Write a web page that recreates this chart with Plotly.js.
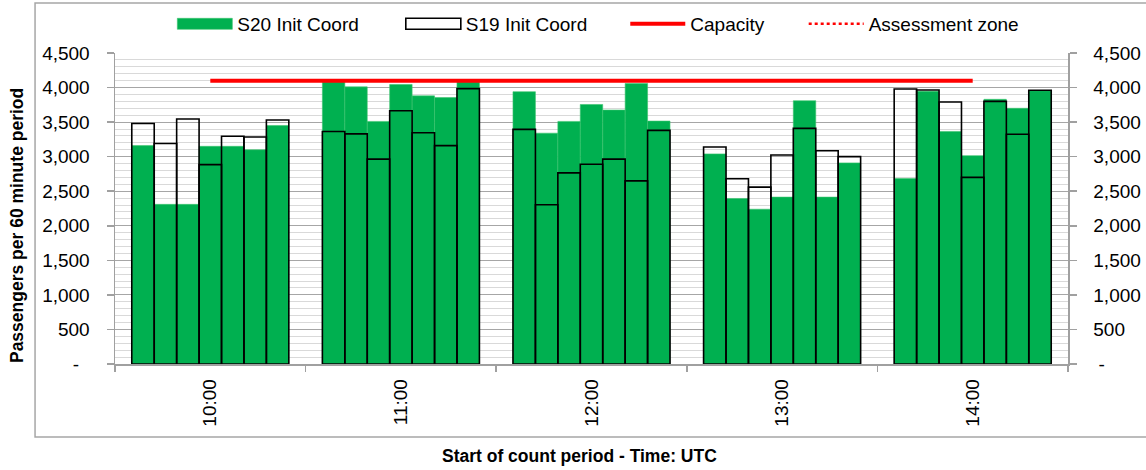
<!DOCTYPE html>
<html>
<head>
<meta charset="utf-8">
<script src="https://cdn.plot.ly/plotly-3.0.1.min.js"></script>
<style>html,body{margin:0;padding:0;background:#fff;}#chart{width:1146px;height:470px;}</style>
</head>
<body>
<div id="chart"></div>
<script>
// Hour groups (category labels)
var hours = ["10:00", "11:00", "12:00", "13:00", "14:00"];

// S20 Init Coord values, 7 periods per hour group
var s20_1000 = [3160, 2310, 2310, 3150, 3150, 3100, 3450];
var s20_1100 = [4080, 4010, 3510, 4045, 3880, 3855, 4080];
var s20_1200 = [3940, 3340, 3510, 3755, 3675, 4060, 3515];
var s20_1300 = [3040, 2395, 2240, 2415, 3810, 2415, 2910];
var s20_1400 = [2685, 3945, 3365, 3015, 3830, 3700, 3955];

// S19 Init Coord values
var s19_1000 = [3480, 3190, 3545, 2885, 3295, 3285, 3530];
var s19_1100 = [3365, 3330, 2965, 3665, 3345, 3160, 3985];
var s19_1200 = [3395, 2305, 2765, 2890, 2965, 2650, 3380];
var s19_1300 = [3140, 2680, 2560, 3025, 3410, 3085, 3000];
var s19_1400 = [3980, 3965, 3790, 2700, 3800, 3325, 3960];

// Capacity per hour group
var capacity = [4100, 4100, 4100, 4100, 4100];
// Assessment zone (no values plotted)
var assessment = [null, null, null, null, null];

// Y tick labels
var yTickVals = [0, 500, 1000, 1500, 2000, 2500, 3000, 3500, 4000, 4500];
var yTickLeft = ["-\u00a0\u00a0", "500", "1,000", "1,500", "2,000", "2,500", "3,000", "3,500", "4,000", "4,500"];
var yTickRight = ["\u00a0-", "500", "1,000", "1,500", "2,000", "2,500", "3,000", "3,500", "4,000", "4,500"];

var s20 = [s20_1000, s20_1100, s20_1200, s20_1300, s20_1400];
var s19 = [s19_1000, s19_1100, s19_1200, s19_1300, s19_1400];

var nPer = 7;
var barW = 0.1177;
function flattenX(groups) {
  var xs = [];
  groups.forEach(function (g, gi) {
    g.forEach(function (v, j) { xs.push(gi + (j - (nPer - 1) / 2) * barW); });
  });
  return xs;
}
function flattenY(groups) {
  var ys = [];
  groups.forEach(function (g) { g.forEach(function (v) { ys.push(v); }); });
  return ys;
}
var hourIdx = hours.map(function (h, i) { return i; });

var FONT = "'Liberation Sans', Arial, sans-serif";

var traces = [
  {
    type: "bar", name: "S20 Init Coord",
    x: flattenX(s20), y: flattenY(s20), width: barW,
    marker: { color: "#00B050", line: { color: "#3cc46e", width: 0.6 } },
    hoverinfo: "y"
  },
  {
    type: "bar", name: "S19 Init Coord",
    x: flattenX(s19), y: flattenY(s19), width: barW,
    marker: { color: "rgba(255,255,255,0)", line: { color: "#000000", width: 1.6 } },
    hoverinfo: "y"
  },
  {
    type: "scatter", mode: "lines", name: "Capacity",
    x: hourIdx, y: capacity,
    line: { color: "#FF0000", width: 4 }
  },
  {
    type: "scatter", mode: "lines", name: "Assessment zone",
    x: hourIdx, y: assessment,
    line: { color: "#FF0000", width: 2.5, dash: "dot" }
  },
  {
    type: "scatter", mode: "lines", x: [0], y: [null], yaxis: "y2",
    showlegend: false, hoverinfo: "skip"
  }
];

var layout = {
  width: 1146, height: 470,
  margin: { l: 115, r: 78, t: 53, b: 106 },
  paper_bgcolor: "#ffffff", plot_bgcolor: "#ffffff",
  font: { family: FONT, size: 19, color: "#000000" },
  barmode: "overlay",
  bargap: 0,
  showlegend: true,
  legend: {
    orientation: "h", x: 0.5166, xanchor: "center", xref: "container",
    y: 0.949, yanchor: "middle", yref: "container",
    font: { family: FONT, size: 19, color: "#000" },
    itemwidth: 55, traceorder: "normal", bgcolor: "rgba(0,0,0,0)"
  },
  xaxis: {
    range: [-0.5, 4.5],
    tickmode: "array", tickvals: hourIdx, ticktext: hours,
    tickangle: -90, ticks: "", showgrid: false, zeroline: false,
    ticklabelstandoff: 6,
    showline: true, linecolor: "#a0a0a0", linewidth: 1.5,
    tickfont: { family: FONT, size: 19, color: "#000" },
    minor: { tickmode: "array", tickvals: [-0.5, 0.5, 1.5, 2.5, 3.5, 4.5], ticks: "outside", ticklen: 6, tickcolor: "#a0a0a0", tickwidth: 1.5, showgrid: false },
    fixedrange: true
  },
  yaxis: {
    range: [0, 4500],
    tickmode: "array", tickvals: yTickVals, ticktext: yTickLeft,
    ticks: "outside", ticklen: 7, tickcolor: "#a0a0a0", tickwidth: 1.5,
    ticklabelstandoff: 13,
    showgrid: true, gridcolor: "#a6a6a6", gridwidth: 1.2,
    minor: { dtick: 100, showgrid: true, gridcolor: "#d9d9d9", gridwidth: 1, ticks: "" },
    zeroline: false, showline: true, linecolor: "#a0a0a0", linewidth: 1.5,
    tickfont: { family: FONT, size: 19, color: "#000" },
    fixedrange: true
  },
  yaxis2: {
    overlaying: "y", side: "right", range: [0, 4500],
    tickmode: "array", tickvals: yTickVals, ticktext: yTickRight,
    ticks: "outside", ticklen: 7, tickcolor: "#a0a0a0", tickwidth: 1.5,
    ticklabelstandoff: 13,
    showgrid: false, zeroline: false, showline: true, linecolor: "#a0a0a0", linewidth: 1.5,
    tickfont: { family: FONT, size: 19, color: "#000" },
    fixedrange: true
  },
  annotations: [
    { text: "<b>Passengers per 60 minute period</b>", xref: "paper", yref: "paper",
      x: -0.1028, y: 0.4437, xanchor: "center", yanchor: "middle", textangle: -90,
      showarrow: false, font: { family: FONT, size: 17.5, color: "#000" } },
    { text: "<b>Start of count period - Time: UTC</b>", xref: "paper", yref: "paper",
      x: 0.4879, y: -0.2958, xanchor: "center", yanchor: "middle",
      showarrow: false, font: { family: FONT, size: 17.5, color: "#000" } }
  ],
  shapes: [
    { type: "rect", xref: "paper", yref: "paper",
      x0: -0.0839, x1: 1.09, y0: -0.2347, y1: 1.1608,
      line: { color: "#a6a6a6", width: 1.5 }, fillcolor: "rgba(0,0,0,0)", layer: "below" }
  ]
};

function parseTranslate(t) {
  var m = /translate\(\s*([-\d.e]+)[ ,]+([-\d.e]+)\s*\)/.exec(t || "");
  return m ? [parseFloat(m[1]), parseFloat(m[2])] : [0, 0];
}

function adjustLegend() {
  var legend = document.querySelector("#chart .legend");
  if (!legend) return;
  // allow entries to spread beyond the auto-sized legend box
  legend.querySelectorAll("[clip-path]").forEach(function (e) { e.removeAttribute("clip-path"); });
  var items = Array.prototype.slice.call(legend.querySelectorAll(".traces"));
  var x0 = 5, len = 45;
  var capLine = items[2] && items[2].querySelector("path.js-line");
  if (capLine) {
    try { var bb = capLine.getBBox(); if (bb.width > 0) { x0 = bb.x; len = bb.width; } } catch (e) {}
  }
  // widen bar swatches to match the line swatches
  items.forEach(function (it) {
    it.querySelectorAll(".legendpoints path").forEach(function (p) {
      p.setAttribute("d", "M" + x0 + ",-5.5h" + len + "v11h-" + len + "Z");
      p.removeAttribute("transform");
    });
  });
  // spread entries with Excel-like gaps, centred on the chart area
  var gaps = [47, 43, 44], centre = 598;
  var info = items.map(function (it) {
    return { el: it, t: parseTranslate(it.getAttribute("transform")) };
  });
  var widths = info.map(function (d) {
    var txt = d.el.querySelector("text.legendtext");
    var bb = txt.getBBox();
    return (bb.x + bb.width) - x0;
  });
  var total = widths.reduce(function (a, b) { return a + b; }, 0) + gaps.reduce(function (a, b) { return a + b; }, 0);
  var legT = parseTranslate(legend.getAttribute("transform"));
  var groupsEl = legend.querySelector(".groups");
  var gT = groupsEl ? parseTranslate(groupsEl.getAttribute("transform")) : [0, 0];
  var scroll = legend.querySelector(".scrollbox");
  var sT = scroll ? parseTranslate(scroll.getAttribute("transform")) : [0, 0];
  var base = legT[0] + gT[0] + sT[0];
  var cursor = centre - total / 2;
  info.forEach(function (d, i) {
    var newX = cursor - base - x0;
    d.el.setAttribute("transform", "translate(" + newX + "," + d.t[1] + ")");
    cursor += widths[i] + (gaps[i] || 0);
  });
}

Plotly.newPlot("chart", traces, layout, { displayModeBar: false, staticPlot: true }).then(adjustLegend);
</script>
</body>
</html>
